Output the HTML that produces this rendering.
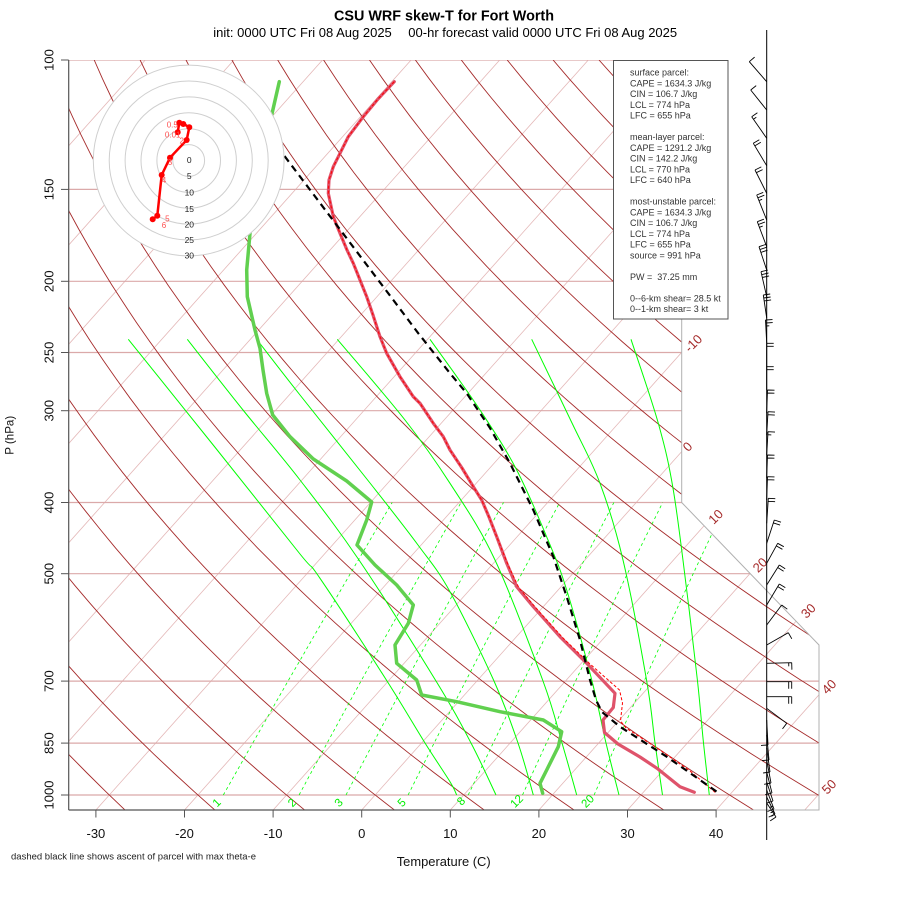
<!DOCTYPE html>
<html><head><meta charset="utf-8">
<style>
html,body{margin:0;padding:0;background:#fff;}
svg{display:block;}
text{font-family:"Liberation Sans",Arial,sans-serif;}
</style></head><body>
<svg id="s" xmlns="http://www.w3.org/2000/svg" width="900" height="900" viewBox="0 0 900 900">
<defs><clipPath id="cp"><polygon points="68.7,60 68.7,810 819,810 819,645 681.7,502.5 681.7,60"/></clipPath></defs>
<rect x="0" y="0" width="900" height="900" fill="#fff"/>
<g id="grid" clip-path="url(#cp)"></g>

<!-- boundary -->
<polyline points="681.7,60 681.7,502.5 819,645 819,810 716,810" fill="none" stroke="#b0b0b0" stroke-width="1"/>
<line x1="68.7" y1="60" x2="68.7" y2="810" stroke="#555" stroke-width="1.2"/>
<line x1="68.7" y1="810" x2="716.5" y2="810" stroke="#555" stroke-width="1.2"/>

<!-- isotherm labels -->
<g fill="#a52a2a" font-size="13" text-anchor="middle" dominant-baseline="central">
<text transform="translate(693.3,343.3) rotate(-45)">-10</text>
<text transform="translate(687.5,446.7) rotate(-45)">0</text>
<text transform="translate(715.7,516.7) rotate(-45)">10</text>
<text transform="translate(760,565) rotate(-45)">20</text>
<text transform="translate(808.3,610.8) rotate(-45)">30</text>
<text transform="translate(829,686.7) rotate(-45)">40</text>
<text transform="translate(829,786.7) rotate(-45)">50</text>
</g>
<!-- mixing ratio labels -->
<g fill="#00ee00" font-size="11.5" text-anchor="middle" dominant-baseline="central">
<text transform="translate(217.3,803.3) rotate(-45)">1</text>
<text transform="translate(292.7,803.3) rotate(-45)">2</text>
<text transform="translate(339.3,803.3) rotate(-45)">3</text>
<text transform="translate(402.3,803.3) rotate(-45)">5</text>
<text transform="translate(461.7,801.7) rotate(-45)">8</text>
<text transform="translate(517.3,801.7) rotate(-45)">12</text>
<text transform="translate(588.3,801.7) rotate(-45)">20</text>
</g>

<!-- profiles -->
<polyline fill="none" stroke="#61D04F" stroke-width="3.5" stroke-linejoin="round" stroke-linecap="round" points="279.3,81.7 271.7,115 264,150 257,190 252,215 250,233.3 246.7,270 247.3,296.7 255,330 260,348.3 263,370 266.7,393.3 272.7,415 290,436.7 313.3,459 346.7,481 371.7,502 366.7,520 357,545 375,565 396.7,585 413.3,605 408.3,623.3 395,645 396.7,663.3 416.7,680 421.7,695 456.7,701.7 500,711.7 543.3,720 561.7,731.7 558.3,746.7 546.7,770 540,783.3 542.7,793.3"/>
<polyline fill="none" stroke="#DF536B" stroke-width="3.2" stroke-linejoin="round" stroke-linecap="round" points="394.3,81.7 378,99 363.3,116.7 348.3,136.7 340,153.3 333.3,166.7 329,180 328.3,193.3 333.3,216.7 340,233.3 347,250 353.3,263.3 360,280 366.7,296.7 373,315 380,336.7 386.7,353.3 400,376.7 413.3,396.7 420,403.3 433.3,423.3 443.3,436.7 450,450 462,468 473.3,486.7 481.7,500 489,517 496.7,536.7 506.7,563.3 516.7,586.7 533.3,606.7 560,636.7 586.7,663.3 615,693.3 613.3,707.5 603,720 604.5,732.5 618,744 640,757 657,768.3 680,786.7 694.3,792.3"/>
<polyline fill="none" stroke="#ff0000" stroke-width="1" stroke-dasharray="3,2" points="394.3,81.7 378,99 363.3,116.7 348.3,136.7 340,153.3 333.3,166.7 329,180 328.3,193.3 333.3,216.7 340,233.3 347,250 353.3,263.3 360,280 366.7,296.7 373,315 380,336.7 386.7,353.3 400,376.7 413.3,396.7 420,403.3 433.3,423.3 443.3,436.7 450,450 462,468 473.3,486.7 481.7,500 489,517 496.7,536.7 508.5,566 519,588 536,608 563,638 590,664 619.5,690 622.5,703 620.5,721 626,728 660,750 690,771 716,793"/>
<polyline fill="none" stroke="#000" stroke-width="2.2" stroke-dasharray="7,5" points="270,137 285,156.7 393.3,300 418.3,333.3 450,373.3 466.7,393.3 490,428 510,463.3 533.3,510 553.3,556.7 566.7,596.7 580,640 590,680 596,700 602,712 620,726.7 666.7,756.7 716.7,791.7"/>

<!-- hodograph -->
<g>
<circle cx="188.7" cy="160.5" r="95.4" fill="#fff" stroke="#cfcfcf" stroke-width="1"/>
<g fill="none" stroke="#cfcfcf" stroke-width="1">
<circle cx="188.7" cy="160.5" r="15.9"/><circle cx="188.7" cy="160.5" r="31.8"/><circle cx="188.7" cy="160.5" r="47.7"/><circle cx="188.7" cy="160.5" r="63.6"/><circle cx="188.7" cy="160.5" r="79.5"/>
</g>
<g font-size="8.5" fill="#222" text-anchor="middle" dominant-baseline="central">
<text x="189.3" y="160">0</text><text x="189.3" y="176">5</text><text x="189.3" y="192.3">10</text><text x="189.3" y="209">15</text><text x="189.3" y="224.5">20</text><text x="189.3" y="240">25</text><text x="189.3" y="255.7">30</text>
</g>
<polyline fill="none" stroke="#ff0000" stroke-width="2.5" stroke-linejoin="round" points="177.7,132.3 179.3,122.7 183.3,124 186,125.3 189.3,127.3 186.7,140 170,157.7 161.7,175 157.3,215.7 152.7,219.3"/>
<g fill="#ff0000">
<circle cx="177.7" cy="132.3" r="3"/><circle cx="179.3" cy="122.7" r="3"/><circle cx="183.3" cy="124" r="3"/><circle cx="189.3" cy="127.3" r="3"/><circle cx="186.7" cy="140" r="3"/><circle cx="170" cy="157.7" r="3"/><circle cx="161.7" cy="175" r="3"/><circle cx="157.3" cy="215.7" r="3"/><circle cx="152.7" cy="219.3" r="3"/>
</g>
<g font-size="8" fill="#ff4d4d" text-anchor="middle" dominant-baseline="central">
<text x="172.3" y="125">0.5</text><text x="172.7" y="135">0.01</text><text x="181.7" y="141">2</text><text x="170" y="162.3">3</text><text x="164" y="180.7">4</text><text x="167.3" y="219">5</text><text x="164" y="225.7">6</text>
</g>
</g>

<!-- legend -->
<rect x="613.5" y="60.5" width="114.5" height="258.5" fill="#fff" stroke="#555" stroke-width="1"/>
<g font-size="9" fill="#333">
<text x="630" y="75.6">surface parcel:</text>
<text x="630" y="86.35">CAPE = 1634.3 J/kg</text>
<text x="630" y="97.1">CIN = 106.7 J/kg</text>
<text x="630" y="107.85">LCL = 774 hPa</text>
<text x="630" y="118.6">LFC = 655 hPa</text>
<text x="630" y="140.1">mean-layer parcel:</text>
<text x="630" y="150.85">CAPE = 1291.2 J/kg</text>
<text x="630" y="161.6">CIN = 142.2 J/kg</text>
<text x="630" y="172.35">LCL = 770 hPa</text>
<text x="630" y="183.1">LFC = 640 hPa</text>
<text x="630" y="204.6">most-unstable parcel:</text>
<text x="630" y="215.35">CAPE = 1634.3 J/kg</text>
<text x="630" y="226.1">CIN = 106.7 J/kg</text>
<text x="630" y="236.85">LCL = 774 hPa</text>
<text x="630" y="247.6">LFC = 655 hPa</text>
<text x="630" y="258.35">source = 991 hPa</text>
<text x="630" y="279.85" xml:space="preserve">PW =  37.25 mm</text>
<text x="630" y="301.35">0--6-km shear= 28.5 kt</text>
<text x="630" y="312.1">0--1-km shear= 3 kt</text>
</g>

<!-- barbs -->
<line x1="766.7" y1="30" x2="766.7" y2="840" stroke="#000" stroke-width="1"/>
<g id="barbs"></g>

<!-- axes -->
<g stroke="#555" stroke-width="1">
<line x1="61" y1="60" x2="68.7" y2="60"/><line x1="61" y1="189.4" x2="68.7" y2="189.4"/><line x1="61" y1="281.3" x2="68.7" y2="281.3"/><line x1="61" y1="352.5" x2="68.7" y2="352.5"/><line x1="61" y1="410.7" x2="68.7" y2="410.7"/><line x1="61" y1="502.5" x2="68.7" y2="502.5"/><line x1="61" y1="573.7" x2="68.7" y2="573.7"/><line x1="61" y1="681.1" x2="68.7" y2="681.1"/><line x1="61" y1="743.1" x2="68.7" y2="743.1"/><line x1="61" y1="795" x2="68.7" y2="795"/>
<line x1="95.9" y1="810" x2="95.9" y2="817.5"/><line x1="184.5" y1="810" x2="184.5" y2="817.5"/><line x1="273.1" y1="810" x2="273.1" y2="817.5"/><line x1="361.7" y1="810" x2="361.7" y2="817.5"/><line x1="450.3" y1="810" x2="450.3" y2="817.5"/><line x1="538.9" y1="810" x2="538.9" y2="817.5"/><line x1="627.5" y1="810" x2="627.5" y2="817.5"/><line x1="716.1" y1="810" x2="716.1" y2="817.5"/>
</g>
<g font-size="13" fill="#111" text-anchor="middle">
<text transform="translate(53.3,60) rotate(-90)">100</text>
<text transform="translate(53.3,189.4) rotate(-90)">150</text>
<text transform="translate(53.3,281.3) rotate(-90)">200</text>
<text transform="translate(53.3,352.5) rotate(-90)">250</text>
<text transform="translate(53.3,410.7) rotate(-90)">300</text>
<text transform="translate(53.3,502.5) rotate(-90)">400</text>
<text transform="translate(53.3,573.7) rotate(-90)">500</text>
<text transform="translate(53.3,681.1) rotate(-90)">700</text>
<text transform="translate(53.3,743.1) rotate(-90)">850</text>
<text transform="translate(53.3,795) rotate(-90)">1000</text>
<text x="95.9" y="838">-30</text><text x="184.5" y="838">-20</text><text x="273.1" y="838">-10</text><text x="361.7" y="838">0</text><text x="450.3" y="838">10</text><text x="538.9" y="838">20</text><text x="627.5" y="838">30</text><text x="716.1" y="838">40</text>
</g>
<text transform="translate(13.5,435.3) rotate(-90)" text-anchor="middle" font-size="12" fill="#111" textLength="39" lengthAdjust="spacingAndGlyphs">P (hPa)</text>
<text x="396.7" y="866" font-size="13" fill="#111" textLength="94" lengthAdjust="spacingAndGlyphs">Temperature (C)</text>
<text x="11" y="859.5" font-size="8.8" fill="#222" textLength="245" lengthAdjust="spacingAndGlyphs">dashed black line shows ascent of parcel with max theta-e</text>
<text x="334" y="20.7" font-size="14.5" font-weight="bold" fill="#000" textLength="220" lengthAdjust="spacingAndGlyphs">CSU WRF skew-T for Fort Worth</text>
<text x="213.3" y="37" font-size="13" fill="#000">init: 0000 UTC Fri 08 Aug 2025</text>
<text x="408.3" y="37" font-size="13" fill="#000">00-hr forecast valid 0000 UTC Fri 08 Aug 2025</text>
</svg>
<script>
(function(){
var NS="http://www.w3.org/2000/svg";
function Y(p){return 60+319.2*Math.log(p/100);}
function X(T,p){return 361.7+8.86*T+0.8928*(810-Y(p));}
function el(parent,tag,attrs){var e=document.createElementNS(NS,tag);for(var k in attrs)e.setAttribute(k,attrs[k]);parent.appendChild(e);return e;}
function pl(pts){return pts.map(function(q){return q[0].toFixed(1)+","+q[1].toFixed(1);}).join(" ");}
function cr(pts){var d="M"+pts[0][0]+","+pts[0][1];for(var i=0;i<pts.length-1;i++){var p0=pts[i-1]||pts[i],p1=pts[i],p2=pts[i+1],p3=pts[i+2]||p2;var c1x=p1[0]+(p2[0]-p0[0])/6,c1y=p1[1]+(p2[1]-p0[1])/6,c2x=p2[0]-(p3[0]-p1[0])/6,c2y=p2[1]-(p3[1]-p1[1])/6;d+=" C"+c1x.toFixed(1)+","+c1y.toFixed(1)+" "+c2x.toFixed(1)+","+c2y.toFixed(1)+" "+p2[0]+","+p2[1];}return d;}
var g=document.getElementById("grid");
var T,i,p;
for(T=-100;T<=50;T+=10){el(g,"line",{x1:X(T,1050).toFixed(1),y1:Y(1050).toFixed(1),x2:X(T,100).toFixed(1),y2:Y(100).toFixed(1),stroke:"#e4b8b8","stroke-width":0.8});}
[1000,850,700,500,400,300,250,200,150,100].forEach(function(pp){el(g,"line",{x1:68.7,y1:Y(pp).toFixed(1),x2:819,y2:Y(pp).toFixed(1),stroke:"#dba9a9","stroke-width":1.2});});
for(var th=-30;th<=170;th+=10){var pts=[];for(i=0;i<=40;i++){p=1050*Math.pow(100/1050,i/40);T=(th+273.15)*Math.pow(p/1000,0.2857)-273.15;pts.push([X(T,p),Y(p)]);}el(g,"polyline",{points:pl(pts),fill:"none",stroke:"#a52a2a","stroke-width":0.9});}
[1,2,3,5,8,12,20].forEach(function(r){var pts=[];for(var j=0;j<=12;j++){var pp=1000-j*50;var e=pp*r/(622+r);var l=Math.log(e/6.112);var Td=243.5*l/(17.67-l);pts.push([X(Td,pp),Y(pp)]);}el(g,"polyline",{points:pl(pts),fill:"none",stroke:"#00ff00","stroke-width":0.8,"stroke-dasharray":"3,3"});});
var M=[
[[128.3,339.3],[214,446],[300,554],[320,578.3],[387,681],[425,743],[450,781.7],[456.7,795]],
[[187.3,339.3],[243,410],[300,480],[359,560],[436,681],[471,743],[496,795]],
[[256.7,339.3],[300,395],[370,483],[418,545],[450,591.7],[494,681],[518,743],[533.3,795]],
[[337.3,339.3],[405,420],[450,483.3],[495,560],[543,681],[562,743],[576.7,795]],
[[430,339.3],[480,410],[516.7,470],[548,540],[566.7,590],[592,681],[606,743],[619,795]],
[[531.7,339.3],[572,423],[600,483.3],[623,560],[646.7,681],[655,743],[662.5,795]],
[[631,339.3],[658.3,423.3],[673.3,490],[686.7,590],[697.5,681],[703.5,743],[709.3,795]]];
M.forEach(function(c){el(g,"path",{d:cr(c),fill:"none",stroke:"#00ff00","stroke-width":1});});
var bg=document.getElementById("barbs");
var B=[[81.7,-17.4,-20,1],[110,-16,-20,1],[138.3,-15,-21.6,1.5],[165.7,-13.4,-22.4,2],[193.3,-11.7,-23.3,2],[220,-10,-25,2.5],[246.7,-9.4,-25,2.5],[270,-7.7,-23.3,3],[296.7,-5.7,-25,3],[318,-3.4,-23,3],[343,-1.2,-23,2.5],[367,0,-23.7,2],[390,0,-23.3,2],[413,0.8,-23,2],[435,1.3,-23.3,2],[455,1.3,-23.3,1.5],[478,0.8,-23,2],[500,0.8,-23.3,2],[523.3,1.6,-25,2],[543.3,7.6,-23.3,2],[563.3,11,-20,2],[585,12.6,-20,2],[605,12.6,-21,2],[625,15,-20,1],[645,21.6,-12.3,1],[663.3,25,-0.6,1.5],[681.7,25,0,2],[696.7,25,0,2],[708.3,20,15,1],[720,1.3,25,1],[735,2.3,25,1],[748,3.3,24,1],[760,4.3,23,1],[772,5.3,21,1],[782,6.3,19,1],[790,7.3,19,1.5],[797,8.3,17,1.5],[803,9.3,14,1.5]];
B.forEach(function(b){var x0=766.7,y0=b[0],dx=b[1],dy=b[2],n=b[3];var L=Math.sqrt(dx*dx+dy*dy),ux=dx/L,uy=dy/L,px=-uy,py=ux;var tx=x0+dx,ty=y0+dy;var d="M"+x0+","+y0+" L"+tx.toFixed(1)+","+ty.toFixed(1);var k=0,full=Math.floor(n),sx,sy;for(var q=0;q<full;q++){sx=tx-ux*3*k;sy=ty-uy*3*k;d+=" M"+sx.toFixed(1)+","+sy.toFixed(1)+" l"+(px*7).toFixed(1)+","+(py*7).toFixed(1);k++;}if(n-full>0.2){sx=tx-ux*3*k;sy=ty-uy*3*k;d+=" M"+sx.toFixed(1)+","+sy.toFixed(1)+" l"+(px*3.5).toFixed(1)+","+(py*3.5).toFixed(1);}el(bg,"path",{d:d,stroke:"#000","stroke-width":0.9,fill:"none"});});
})();
</script>
</body></html>
